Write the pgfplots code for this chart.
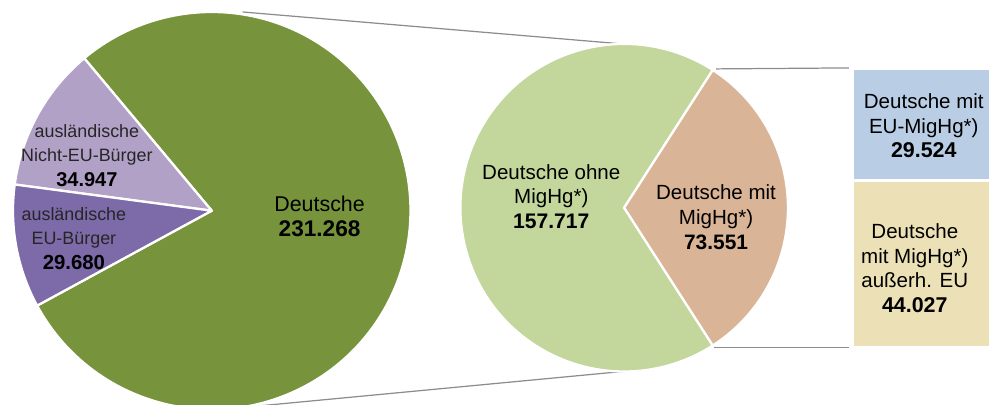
\documentclass[border=0pt]{standalone}
\usepackage{fontspec}
\setmainfont{Liberation Sans}
\usepackage{pgfplots}
\pgfplotsset{compat=1.18}

\definecolor{gD}{RGB}{119,147,60}
\definecolor{pL}{RGB}{178,161,199}
\definecolor{pD}{RGB}{125,106,168}
\definecolor{gL}{RGB}{195,214,155}
\definecolor{tn}{RGB}{217,180,150}
\definecolor{bl}{RGB}{185,205,229}
\definecolor{ye}{RGB}{236,225,182}
\definecolor{ln}{RGB}{140,140,140}

% values in thousands
\def\vDE{231.268}
\def\vNEU{34.947}
\def\vEU{29.680}
\def\vOhne{157.717}
\def\vMit{73.551}

\pgfmathsetmacro\totA{\vDE+\vNEU+\vEU}
\pgfmathsetmacro\aA{129.9}
\pgfmathsetmacro\aB{\aA+360*\vNEU/\totA}
\pgfmathsetmacro\aC{\aB+360*\vEU/\totA}
\pgfmathsetmacro\aD{\aA+360}
\pgfmathsetmacro\totB{\vOhne+\vMit}
\pgfmathsetmacro\bA{-180*\vMit/\totB}
\pgfmathsetmacro\bB{180*\vMit/\totB}
\pgfmathsetmacro\bC{\bA+360}

% cx cy radius start end colour
\newcommand\pieslice[6]{%
  \fill[#6, draw=white, line width=1.3pt, line join=round]
    (axis cs:#1,#2) -- ++(#4:#3) arc[start angle=#4, end angle=#5, radius=#3] -- cycle;}

\newcommand\fs[1]{\fontsize{#1}{14}\selectfont}

\begin{document}
\begin{tikzpicture}
\path (0,0) rectangle (19.84cm,8.1cm);

% stacked bar (second breakdown)
\begin{axis}[
  at={(17.08cm,1.14cm)}, anchor=south west,
  width=2.76cm, height=5.58cm, scale only axis,
  xmin=-0.5, xmax=0.5, ymin=0, ymax=73.551,
  hide axis, ybar stacked, bar width=2.76cm, clip=false,
]
\addplot[fill=ye, draw=white, line width=1.5pt] coordinates {(0,44.027)};
\addplot[fill=bl, draw=white, line width=1.5pt] coordinates {(0,29.524)};
\end{axis}

\begin{axis}[
  at={(0,0)}, anchor=south west,
  width=19.84cm, height=8.1cm, scale only axis,
  xmin=0, xmax=992, ymin=0, ymax=405,
  hide axis,
]
% connectors
\draw[ln, line width=0.7pt] (axis cs:243,393) -- (axis cs:647,359);
\draw[ln, line width=0.7pt] (axis cs:243,-3) -- (axis cs:644,35);
\draw[ln, line width=0.7pt] (axis cs:717,336) -- (axis cs:850,337);
\draw[ln, line width=0.7pt] (axis cs:715,57) -- (axis cs:850,57);

% first pie
\pieslice{212}{194}{3.98cm}{\aC}{\aD}{gD}
\pieslice{212}{194}{3.98cm}{\aA}{\aB}{pL}
\pieslice{212}{194}{3.98cm}{\aB}{\aC}{pD}
% second pie
\pieslice{625}{197}{3.28cm}{\bB}{\bC}{gL}
\pieslice{625}{197}{3.28cm}{\bA}{\bB}{tn}

\node[align=center, font=\fs{12.2}] at (axis cs:320,188.5)
  {Deutsche\\{\fs{12.9}\bfseries 231.268}};
\node[align=center, font=\fs{10.2}, text=black!85] at (axis cs:87,249.5)
  {ausländische\\Nicht-EU-Bürger\\{\fs{11.4}\bfseries\color{black} 34.947}};
\node[align=center, font=\fs{10.2}, text=black!85] at (axis cs:74,166.3)
  {ausländische\\EU-Bürger\\{\fs{11.6}\bfseries\color{black} 29.680}};
\node[align=center, font=\fs{11.7}] at (axis cs:552,208.5)
  {Deutsche ohne\\MigHg*)\\{\fs{12}\bfseries 157.717}};
\node[align=center, font=\fs{11.7}] at (axis cs:717,187.5)
  {Deutsche mit\\MigHg*)\\{\fs{11.9}\bfseries 73.551}};
\node[align=center, font=\fs{11.7}] at (axis cs:925,279)
  {Deutsche mit\\EU-MigHg*)\\{\fs{12.2}\bfseries 29.524}};
\node[align=center, font=\fs{11.7}] at (axis cs:916,136.3)
  {Deutsche\\mit MigHg*)\\außerh. EU\\{\fs{12.2}\bfseries 44.027}};
\end{axis}
\end{tikzpicture}
\end{document}
